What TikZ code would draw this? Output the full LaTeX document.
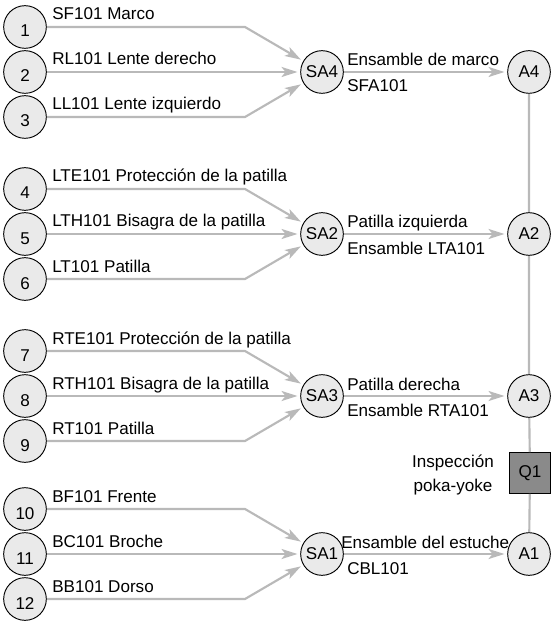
\documentclass[tikz,border=0pt]{standalone}
\usepackage{fontspec}
\setmainfont{Liberation Sans}
\usetikzlibrary{arrows.meta}
\definecolor{flowgray}{RGB}{185,185,185}
\definecolor{partfill}{RGB}{234,234,234}
\definecolor{inspfill}{RGB}{138,138,138}

\begin{document}
\begin{tikzpicture}[x=0.75pt, y=-0.75pt,
    lab/.style={font=\fontsize{12.8pt}{18pt}\selectfont, inner sep=0pt},
    part/.style={circle, draw=black, line width=0.7pt, fill=partfill, minimum size=32pt,
        inner sep=0pt, font=\fontsize{12.8pt}{15pt}\selectfont, text height=15pt, text depth=0pt},
    sub/.style={circle, draw=black, line width=0.7pt, fill=partfill, minimum size=32pt,
        inner sep=0pt, font=\fontsize{12.8pt}{15pt}\selectfont},
    insp/.style={rectangle, draw=black, line width=0.7pt, fill=inspfill, minimum size=30.75pt,
        inner sep=0pt, font=\fontsize{12.8pt}{15pt}\selectfont},
    feed/.style={color=flowgray, line width=1.6pt, -{Stealth[length=12pt, width=7.5pt, inset=3pt]}, shorten >=2pt},
    link/.style={color=flowgray, line width=1.6pt}]
    \useasboundingbox (0,0) rectangle (551,623);
    % frame group
    \node[part] (p1) at (25,27) {1};
    \node[part] (p2) at (25,72) {2};
    \node[part] (p3) at (25,117) {3};
    \node[lab, anchor=base west] (l1) at (52,20) {SF101 Marco};
    \node[lab, anchor=base west] (l2) at (52,65) {RL101 Lente derecho};
    \node[lab, anchor=base west] (l3) at (52,110) {LL101 Lente izquierdo};
    \node[sub] (sa4) at (322,72) {SA4};
    \node[sub] (a4) at (529,72) {A4};
    \coordinate (k1) at (245,27);
    \coordinate (k3) at (245,117);
    \draw[feed] (p1) -- (k1) -- (sa4);
    \draw[feed] (p2) -- (sa4);
    \draw[feed] (p3) -- (k3) -- (sa4);
    \draw[feed] (sa4) -- (a4);
    \node[lab, anchor=base west] (m4) at (347,66) {Ensamble de marco};
    \node[lab, anchor=base west] (c4) at (347,92) {SFA101};
    % left temple group
    \node[part] (p4) at (25,189) {4};
    \node[part] (p5) at (25,234) {5};
    \node[part] (p6) at (25,279) {6};
    \node[lab, anchor=base west] (l4) at (52,182) {LTE101 Protección de la patilla};
    \node[lab, anchor=base west] (l5) at (52,227) {LTH101 Bisagra de la patilla};
    \node[lab, anchor=base west] (l6) at (52,272) {LT101 Patilla};
    \node[sub] (sa2) at (322,234) {SA2};
    \node[sub] (a2) at (529,234) {A2};
    \coordinate (k4) at (245,189);
    \coordinate (k6) at (245,279);
    \draw[feed] (p4) -- (k4) -- (sa2);
    \draw[feed] (p5) -- (sa2);
    \draw[feed] (p6) -- (k6) -- (sa2);
    \draw[feed] (sa2) -- (a2);
    \node[lab, anchor=base west] (m2) at (347,228) {Patilla izquierda};
    \node[lab, anchor=base west] (c2) at (347,254) {Ensamble LTA101};
    % right temple group
    \node[part] (p7) at (25,351) {7};
    \node[part] (p8) at (25,396) {8};
    \node[part] (p9) at (25,441) {9};
    \node[lab, anchor=base west] (l7) at (52,344) {RTE101 Protección de la patilla};
    \node[lab, anchor=base west] (l8) at (52,389) {RTH101 Bisagra de la patilla};
    \node[lab, anchor=base west] (l9) at (52,434) {RT101 Patilla};
    \node[sub] (sa3) at (322,396) {SA3};
    \node[sub] (a3) at (529,396) {A3};
    \coordinate (k7) at (245,351);
    \coordinate (k9) at (245,441);
    \draw[feed] (p7) -- (k7) -- (sa3);
    \draw[feed] (p8) -- (sa3);
    \draw[feed] (p9) -- (k9) -- (sa3);
    \draw[feed] (sa3) -- (a3);
    \node[lab, anchor=base west] (m3) at (347,390) {Patilla derecha};
    \node[lab, anchor=base west] (c3) at (347,416) {Ensamble RTA101};
    % case group
    \node[part] (p10) at (25,509) {10};
    \node[part] (p11) at (25,554) {11};
    \node[part] (p12) at (25,599) {12};
    \node[lab, anchor=base west] (l10) at (52,502) {BF101 Frente};
    \node[lab, anchor=base west] (l11) at (52,547) {BC101 Broche};
    \node[lab, anchor=base west] (l12) at (52,592) {BB101 Dorso};
    \node[sub] (sa1) at (322,554) {SA1};
    \node[sub] (a1) at (529,554) {A1};
    \coordinate (k10) at (245,509);
    \coordinate (k12) at (245,599);
    \draw[feed] (p10) -- (k10) -- (sa1);
    \draw[feed] (p11) -- (sa1);
    \draw[feed] (p12) -- (k12) -- (sa1);
    \draw[feed] (sa1) -- (a1);
    \node[lab, anchor=base west] (m1) at (341,548) {Ensamble del estuche};
    \node[lab, anchor=base west] (c1) at (347,574) {CBL101};
    % final line with inspection
    \node[insp] (q1) at (530,473) {Q1};
    \node[lab, align=center] (qi) at (453,475) {Inspección\\poka-yoke};
    \draw[link] (a4) -- (a2) -- (a3) -- (q1) -- (a1);
\end{tikzpicture}
\end{document}
